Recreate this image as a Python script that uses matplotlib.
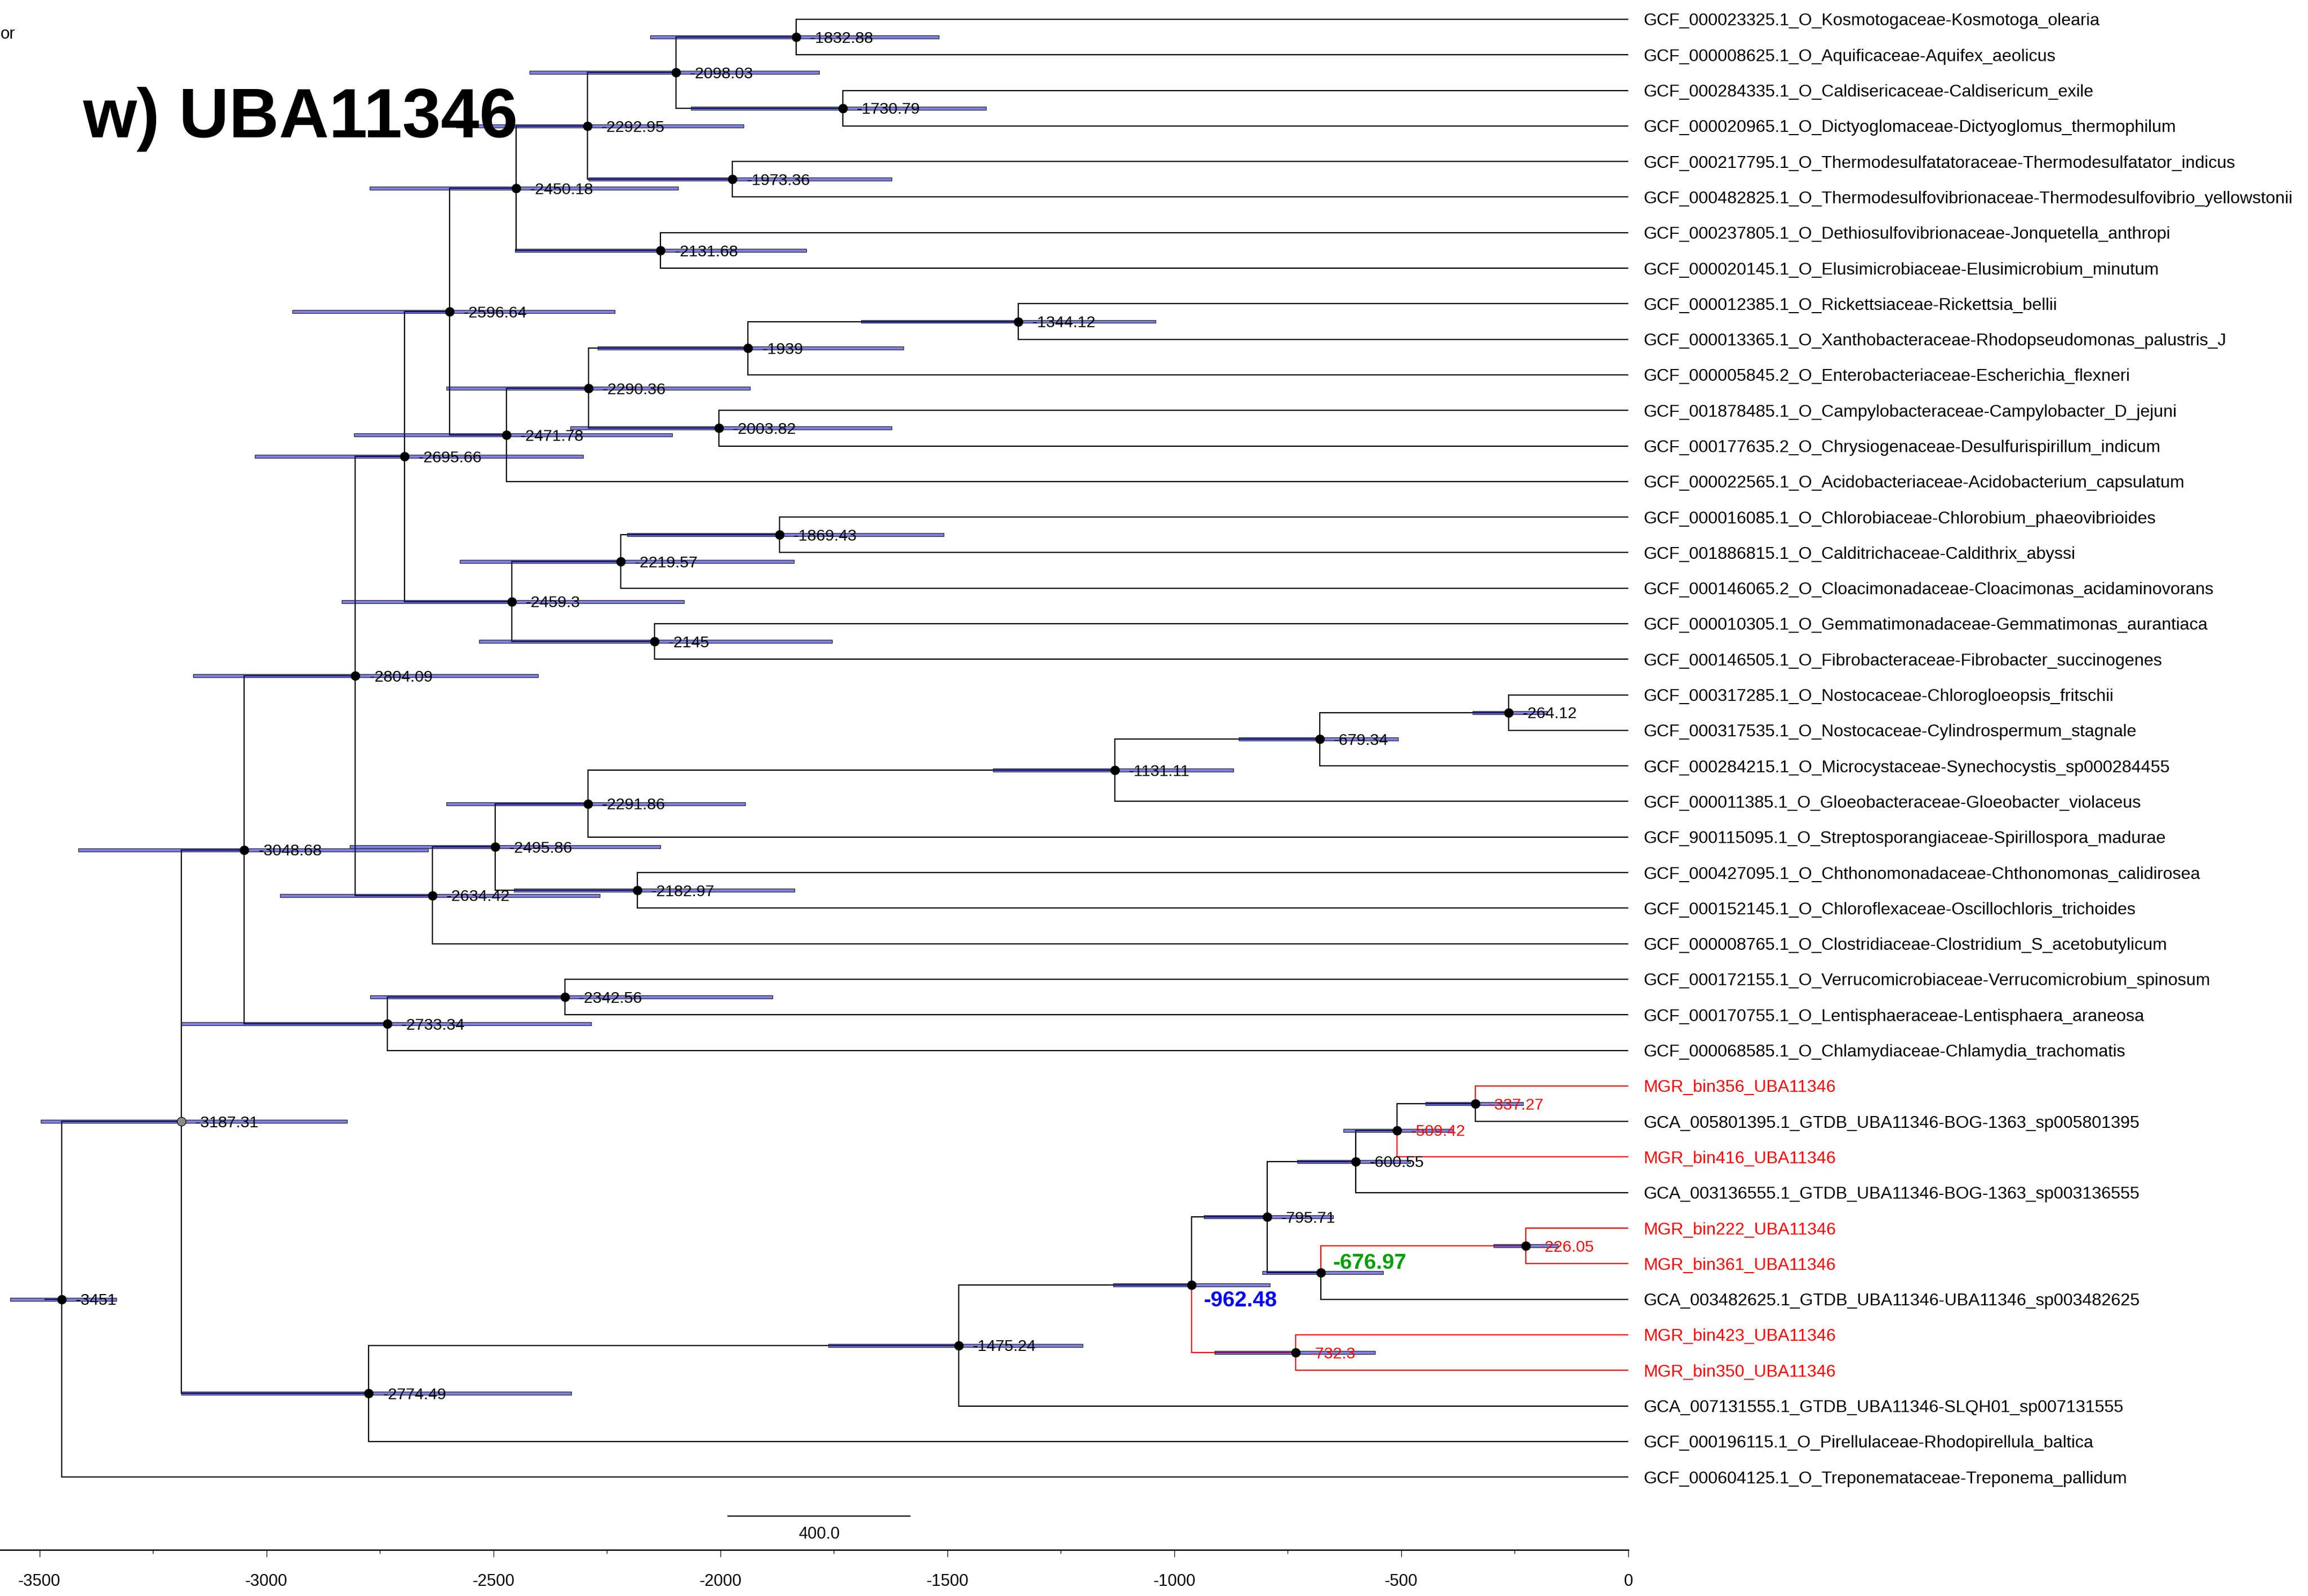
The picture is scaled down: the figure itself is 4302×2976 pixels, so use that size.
import matplotlib
matplotlib.use("Agg")
import matplotlib.pyplot as plt
from matplotlib.patches import Rectangle
from matplotlib.ticker import MultipleLocator

plt.rcParams['font.family'] = ['Liberation Sans', 'DejaVu Sans']
plt.rcParams['axes.unicode_minus'] = False

# tips, top to bottom
tip_labels = [
    "GCF_000023325.1_O_Kosmotogaceae-Kosmotoga_olearia",
    "GCF_000008625.1_O_Aquificaceae-Aquifex_aeolicus",
    "GCF_000284335.1_O_Caldisericaceae-Caldisericum_exile",
    "GCF_000020965.1_O_Dictyoglomaceae-Dictyoglomus_thermophilum",
    "GCF_000217795.1_O_Thermodesulfatatoraceae-Thermodesulfatator_indicus",
    "GCF_000482825.1_O_Thermodesulfovibrionaceae-Thermodesulfovibrio_yellowstonii",
    "GCF_000237805.1_O_Dethiosulfovibrionaceae-Jonquetella_anthropi",
    "GCF_000020145.1_O_Elusimicrobiaceae-Elusimicrobium_minutum",
    "GCF_000012385.1_O_Rickettsiaceae-Rickettsia_bellii",
    "GCF_000013365.1_O_Xanthobacteraceae-Rhodopseudomonas_palustris_J",
    "GCF_000005845.2_O_Enterobacteriaceae-Escherichia_flexneri",
    "GCF_001878485.1_O_Campylobacteraceae-Campylobacter_D_jejuni",
    "GCF_000177635.2_O_Chrysiogenaceae-Desulfurispirillum_indicum",
    "GCF_000022565.1_O_Acidobacteriaceae-Acidobacterium_capsulatum",
    "GCF_000016085.1_O_Chlorobiaceae-Chlorobium_phaeovibrioides",
    "GCF_001886815.1_O_Calditrichaceae-Caldithrix_abyssi",
    "GCF_000146065.2_O_Cloacimonadaceae-Cloacimonas_acidaminovorans",
    "GCF_000010305.1_O_Gemmatimonadaceae-Gemmatimonas_aurantiaca",
    "GCF_000146505.1_O_Fibrobacteraceae-Fibrobacter_succinogenes",
    "GCF_000317285.1_O_Nostocaceae-Chlorogloeopsis_fritschii",
    "GCF_000317535.1_O_Nostocaceae-Cylindrospermum_stagnale",
    "GCF_000284215.1_O_Microcystaceae-Synechocystis_sp000284455",
    "GCF_000011385.1_O_Gloeobacteraceae-Gloeobacter_violaceus",
    "GCF_900115095.1_O_Streptosporangiaceae-Spirillospora_madurae",
    "GCF_000427095.1_O_Chthonomonadaceae-Chthonomonas_calidirosea",
    "GCF_000152145.1_O_Chloroflexaceae-Oscillochloris_trichoides",
    "GCF_000008765.1_O_Clostridiaceae-Clostridium_S_acetobutylicum",
    "GCF_000172155.1_O_Verrucomicrobiaceae-Verrucomicrobium_spinosum",
    "GCF_000170755.1_O_Lentisphaeraceae-Lentisphaera_araneosa",
    "GCF_000068585.1_O_Chlamydiaceae-Chlamydia_trachomatis",
    "MGR_bin356_UBA11346",
    "GCA_005801395.1_GTDB_UBA11346-BOG-1363_sp005801395",
    "MGR_bin416_UBA11346",
    "GCA_003136555.1_GTDB_UBA11346-BOG-1363_sp003136555",
    "MGR_bin222_UBA11346",
    "MGR_bin361_UBA11346",
    "GCA_003482625.1_GTDB_UBA11346-UBA11346_sp003482625",
    "MGR_bin423_UBA11346",
    "MGR_bin350_UBA11346",
    "GCA_007131555.1_GTDB_UBA11346-SLQH01_sp007131555",
    "GCF_000196115.1_O_Pirellulaceae-Rhodopirellula_baltica",
    "GCF_000604125.1_O_Treponemataceae-Treponema_pallidum",
]
red_tips = [30, 32, 34, 35, 37, 38]

# internal nodes: age, children ("n" = node, "t" = tip), 95% HPD
node_age = [-3451, -3187.31, -3048.68, -2804.09, -2695.66, -2596.64, -2450.18,
            -2292.95, -2098.03, -1832.88, -1730.79, -1973.36, -2131.68, -2471.78,
            -2290.36, -1939, -1344.12, -2003.82, -2459.3, -2219.57, -1869.43,
            -2145, -2634.42, -2495.86, -2291.86, -1131.11, -679.34, -264.12,
            -2182.97, -2733.34, -2342.56, -2774.49, -1475.24, -962.48, -795.71,
            -600.55, -509.42, -337.27, -676.97, -226.05, -732.3]
node_kids = [("n1", "t41"), ("n2", "n31"), ("n3", "n29"), ("n4", "n22"),
             ("n5", "n18"), ("n6", "n13"), ("n7", "n12"), ("n8", "n11"),
             ("n9", "n10"), ("t0", "t1"), ("t2", "t3"), ("t4", "t5"),
             ("t6", "t7"), ("n14", "t13"), ("n15", "n17"), ("n16", "t10"),
             ("t8", "t9"), ("t11", "t12"), ("n19", "n21"), ("n20", "t16"),
             ("t14", "t15"), ("t17", "t18"), ("n23", "t26"), ("n24", "n28"),
             ("n25", "t23"), ("n26", "t22"), ("n27", "t21"), ("t19", "t20"),
             ("t24", "t25"), ("n30", "t29"), ("t27", "t28"), ("n32", "t40"),
             ("n33", "t39"), ("n34", "n40"), ("n35", "n38"), ("n36", "t33"),
             ("n37", "t32"), ("t30", "t31"), ("n39", "t36"), ("t34", "t35"),
             ("t37", "t38")]
hpd_low = [-3564, -3497, -3414, -3161, -3026, -2943, -2773, -2582, -2420, -2155,
           -2065, -2290, -2452, -2807, -2604, -2270, -1690, -2331, -2834, -2574,
           -2205, -2532, -2970, -2816, -2604, -1399, -858, -343, -2455, -3188,
           -2772, -3187, -1762, -1135, -935, -729, -628, -447, -806, -297, -911]
hpd_high = [-3331, -2822, -2644, -2401, -2302, -2233, -2093, -1949, -1782, -1519,
            -1415, -1623, -1811, -2106, -1935, -1597, -1041, -1623, -2080, -1838,
            -1508, -1754, -2266, -2132, -1945, -870, -507, -178, -1837, -2284,
            -1885, -2328, -1202, -790, -650, -480, -385, -232, -540, -155, -558]

red_branches = ["t30", "t32", "n39", "t34", "t35", "n40", "t37", "t38"]
red_node_labels = [36, 37, 39, 40]
blue_node = 33
green_node = 38
gray_node = 1
root_stem = 37
scale_len = 400
scale_start = -1983

W, H, DPI = 4302, 2976, 300
fig = plt.figure(figsize=(W / DPI, H / DPI), dpi=DPI)
ax = fig.add_axes([0, 86 / H, 3035 / W, 2890 / H])
ax.set_xlim(-3587, 0)
ax.set_ylim(43.05, -0.543)

node_y = {}


def get_y(ref):
    kind, i = ref[0], int(ref[1:])
    if kind == "t":
        return float(i)
    if i not in node_y:
        a, b = node_kids[i]
        node_y[i] = (get_y(a) + get_y(b)) / 2
    return node_y[i]


def get_x(ref):
    kind, i = ref[0], int(ref[1:])
    return 0.0 if kind == "t" else node_age[i]


branch_lw = 0.55
# branches
for i, kids in enumerate(node_kids):
    px, py = node_age[i], get_y("n%d" % i)
    for k in kids:
        c = "#ff0000" if k in red_branches else "black"
        ax.plot([px, px, get_x(k)], [py, get_y(k), get_y(k)], color=c,
                lw=branch_lw, solid_joinstyle="miter", solid_capstyle="butt", zorder=1)
ax.plot([node_age[0] - root_stem, node_age[0]], [get_y("n0")] * 2, color="black",
        lw=branch_lw, zorder=1)

# HPD bars, semi-transparent over branches
for i in range(len(node_age)):
    y = get_y("n%d" % i)
    ax.add_patch(Rectangle((hpd_low[i], y - 0.045), hpd_high[i] - hpd_low[i], 0.09,
                           facecolor=(0, 0, 0.8, 0.5), edgecolor="#2a2a2a",
                           lw=0.3, zorder=2))

# node dots and labels
fs_node = 7.2
for i, age in enumerate(node_age):
    y = get_y("n%d" % i)
    fc = "#8c8c8c" if i == gray_node else "black"
    ax.plot(age, y, "o", ms=3.9, mfc=fc, mec="black", mew=0.3, zorder=3)
    txt = f"{age:g}"
    if i == blue_node:
        ax.annotate(txt, (age, y), xytext=(5.5, -9.7), textcoords="offset points",
                    va="baseline", fontsize=9.7, fontweight="bold", color="#0000ff", zorder=4)
    elif i == green_node:
        ax.annotate(txt, (age, y), xytext=(5.3, 1.6), textcoords="offset points",
                    va="baseline", fontsize=9.7, fontweight="bold", color="#00a000", zorder=4)
    else:
        c = "#ff0000" if i in red_node_labels else "black"
        ax.annotate(txt, (age, y), xytext=(6.2, -0.358 * fs_node), textcoords="offset points",
                    va="baseline", fontsize=fs_node, color=c, zorder=4)

# tip labels
fs_tip = 7.7
for i, lab in enumerate(tip_labels):
    c = "#ff0000" if i in red_tips else "black"
    ax.annotate(lab, (0, i), xytext=(6.8, -0.358 * fs_tip), textcoords="offset points",
                va="baseline", fontsize=fs_tip, color=c, annotation_clip=False, zorder=4)

# scale bar
ax.plot([scale_start, scale_start + scale_len], [42.1, 42.1], color="black", lw=0.55)
ax.text(scale_start + scale_len / 2, 42.62, f"{scale_len:.1f}", ha="center", va="center",
        fontsize=7.4)

# axis
for s in ["left", "top", "right"]:
    ax.spines[s].set_visible(False)
ax.spines["bottom"].set_linewidth(0.6)
ax.set_yticks([])
ax.set_xticks(range(-3500, 1, 500))
ax.xaxis.set_minor_locator(MultipleLocator(250))
ax.tick_params(axis="x", which="major", length=3.1, width=0.3, pad=7.5, labelsize=7.4)
ax.tick_params(axis="x", which="minor", length=1.7, width=0.3)

fig.text(154 / W, 1 - 256 / H, "w) UBA11346", fontsize=31, fontweight="bold",
         va="baseline", ha="left", zorder=10)
fig.text(1 / W, 1 - 72 / H, "or", fontsize=7.5, va="baseline", ha="left")

fig.savefig("out.png", dpi=DPI)
